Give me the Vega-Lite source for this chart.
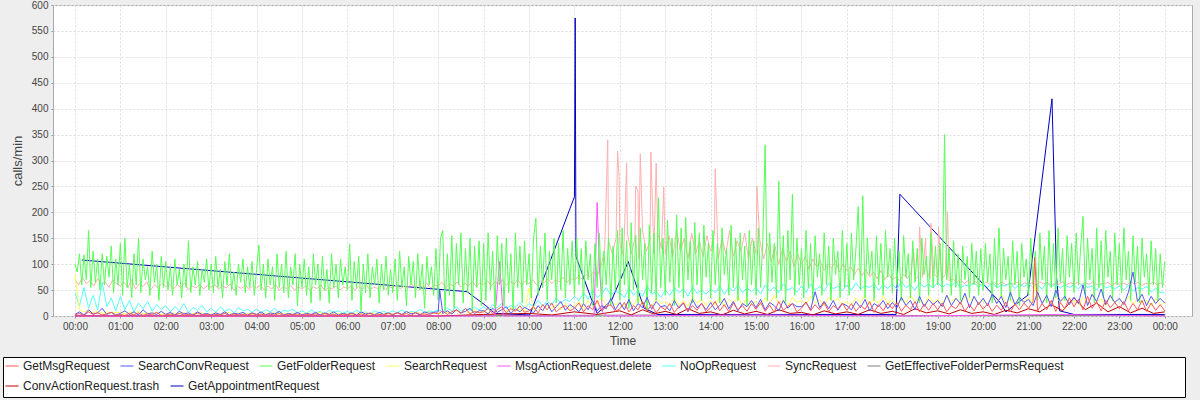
{
"$schema": "https://vega.github.io/schema/vega-lite/v6.json",
"width": 1139, "height": 311,
"autosize": {"type": "none"},
"padding": {"left": 53, "top": 5, "right": 8, "bottom": 84},
"background": "#eeeeee",
"config": {
 "view": {"fill": "#ffffff", "stroke": "#aaaaaa", "strokeWidth": 1},
 "axis": {"labelFont": "Liberation Sans", "labelFontSize": 10, "labelColor": "#444444", "titleFont": "Liberation Sans", "titleFontSize": 12, "titleFontWeight": "normal", "titleColor": "#444444", "domain": false, "ticks": true, "tickColor": "#999999", "tickSize": 2, "gridColor": "#dddddd", "gridDash": [2, 2], "labelPadding": 3},
 "legend": {"labelLimit": 400, "labelFont": "Liberation Sans", "labelFontSize": 12, "labelColor": "#222222", "symbolType": "stroke", "symbolSize": 169, "symbolStrokeWidth": 1, "labelOffset": 4, "columnPadding": 8}
},
"datasets": {
"g": [{"m":0,"v":100},{"m":3,"v":85},{"m":6,"v":120},{"m":9,"v":60},{"m":12,"v":118},{"m":15,"v":70},{"m":18,"v":165},{"m":21,"v":55},{"m":24,"v":125},{"m":27,"v":65},{"m":30,"v":110},{"m":33,"v":50},{"m":36,"v":120},{"m":39,"v":60},{"m":42,"v":115},{"m":45,"v":75},{"m":48,"v":135},{"m":51,"v":45},{"m":54,"v":110},{"m":57,"v":60},
{"m":60,"v":140},{"m":63,"v":40},{"m":66,"v":150},{"m":69,"v":55},{"m":72,"v":100},{"m":75,"v":35},{"m":78,"v":120},{"m":81,"v":60},{"m":84,"v":150},{"m":87,"v":45},{"m":90,"v":110},{"m":93,"v":70},{"m":96,"v":95},{"m":99,"v":40},{"m":102,"v":125},{"m":105,"v":65},{"m":108,"v":100},{"m":111,"v":30},{"m":114,"v":115},{"m":117,"v":55},
{"m":120,"v":105},{"m":123,"v":50},{"m":126,"v":95},{"m":129,"v":40},{"m":132,"v":110},{"m":135,"v":60},{"m":138,"v":90},{"m":141,"v":35},{"m":144,"v":100},{"m":147,"v":55},{"m":150,"v":145},{"m":153,"v":45},{"m":156,"v":95},{"m":159,"v":60},{"m":162,"v":105},{"m":165,"v":40},{"m":168,"v":90},{"m":171,"v":65},{"m":174,"v":110},{"m":177,"v":50},
{"m":180,"v":100},{"m":183,"v":45},{"m":186,"v":115},{"m":189,"v":55},{"m":192,"v":90},{"m":195,"v":35},{"m":198,"v":105},{"m":201,"v":60},{"m":204,"v":120},{"m":207,"v":50},{"m":210,"v":85},{"m":213,"v":40},{"m":216,"v":100},{"m":219,"v":65},{"m":222,"v":110},{"m":225,"v":45},{"m":228,"v":95},{"m":231,"v":55},{"m":234,"v":105},{"m":237,"v":40},
{"m":240,"v":90},{"m":243,"v":137},{"m":246,"v":50},{"m":249,"v":100},{"m":252,"v":35},{"m":255,"v":110},{"m":258,"v":60},{"m":261,"v":95},{"m":264,"v":30},{"m":267,"v":120},{"m":270,"v":55},{"m":273,"v":100},{"m":276,"v":45},{"m":279,"v":125},{"m":282,"v":35},{"m":285,"v":95},{"m":288,"v":60},{"m":291,"v":120},{"m":294,"v":20},{"m":297,"v":100},
{"m":300,"v":55},{"m":303,"v":110},{"m":306,"v":40},{"m":309,"v":95},{"m":312,"v":25},{"m":315,"v":120},{"m":318,"v":60},{"m":321,"v":100},{"m":324,"v":30},{"m":327,"v":115},{"m":330,"v":50},{"m":333,"v":90},{"m":336,"v":25},{"m":339,"v":120},{"m":342,"v":55},{"m":345,"v":100},{"m":348,"v":35},{"m":351,"v":110},{"m":354,"v":60},{"m":357,"v":95},
{"m":360,"v":50},{"m":363,"v":139},{"m":366,"v":30},{"m":369,"v":105},{"m":372,"v":55},{"m":375,"v":115},{"m":378,"v":10},{"m":381,"v":100},{"m":384,"v":45},{"m":387,"v":120},{"m":390,"v":35},{"m":393,"v":95},{"m":396,"v":60},{"m":399,"v":110},{"m":402,"v":25},{"m":405,"v":100},{"m":408,"v":50},{"m":411,"v":115},{"m":414,"v":40},{"m":417,"v":90},
{"m":420,"v":45},{"m":423,"v":110},{"m":426,"v":30},{"m":429,"v":125},{"m":432,"v":55},{"m":435,"v":95},{"m":438,"v":20},{"m":441,"v":115},{"m":444,"v":60},{"m":447,"v":105},{"m":450,"v":35},{"m":453,"v":120},{"m":456,"v":50},{"m":459,"v":100},{"m":462,"v":15},{"m":465,"v":115},{"m":468,"v":60},{"m":471,"v":95},{"m":474,"v":40},{"m":477,"v":130},
{"m":480,"v":30},{"m":483,"v":150},{"m":486,"v":165},{"m":489,"v":10},{"m":492,"v":120},{"m":495,"v":40},{"m":498,"v":155},{"m":501,"v":15},{"m":504,"v":140},{"m":507,"v":60},{"m":510,"v":160},{"m":513,"v":25},{"m":516,"v":130},{"m":519,"v":45},{"m":522,"v":150},{"m":525,"v":10},{"m":528,"v":135},{"m":531,"v":55},{"m":534,"v":145},{"m":537,"v":20},
{"m":540,"v":140},{"m":543,"v":30},{"m":546,"v":160},{"m":549,"v":50},{"m":552,"v":125},{"m":555,"v":15},{"m":558,"v":155},{"m":561,"v":60},{"m":564,"v":140},{"m":567,"v":20},{"m":570,"v":150},{"m":573,"v":45},{"m":576,"v":120},{"m":579,"v":10},{"m":582,"v":160},{"m":585,"v":55},{"m":588,"v":135},{"m":591,"v":25},{"m":594,"v":145},{"m":597,"v":60},
{"m":600,"v":120},{"m":603,"v":35},{"m":606,"v":150},{"m":609,"v":189},{"m":612,"v":40},{"m":615,"v":135},{"m":618,"v":55},{"m":621,"v":160},{"m":624,"v":30},{"m":627,"v":125},{"m":630,"v":70},{"m":633,"v":150},{"m":636,"v":25},{"m":639,"v":140},{"m":642,"v":50},{"m":645,"v":165},{"m":648,"v":35},{"m":651,"v":130},{"m":654,"v":60},{"m":657,"v":145},
{"m":660,"v":40},{"m":663,"v":150},{"m":666,"v":60},{"m":669,"v":130},{"m":672,"v":25},{"m":675,"v":145},{"m":678,"v":70},{"m":681,"v":120},{"m":684,"v":20},{"m":687,"v":140},{"m":690,"v":55},{"m":693,"v":160},{"m":696,"v":30},{"m":699,"v":125},{"m":702,"v":60},{"m":705,"v":150},{"m":708,"v":20},{"m":711,"v":135},{"m":714,"v":50},{"m":717,"v":165},
{"m":720,"v":30},{"m":723,"v":170},{"m":726,"v":60},{"m":729,"v":145},{"m":732,"v":15},{"m":735,"v":180},{"m":738,"v":50},{"m":741,"v":155},{"m":744,"v":25},{"m":747,"v":170},{"m":750,"v":70},{"m":753,"v":140},{"m":756,"v":10},{"m":759,"v":175},{"m":762,"v":45},{"m":765,"v":160},{"m":768,"v":30},{"m":771,"v":228},{"m":774,"v":55},{"m":777,"v":150},
{"m":780,"v":40},{"m":783,"v":185},{"m":786,"v":65},{"m":789,"v":150},{"m":792,"v":20},{"m":795,"v":195},{"m":798,"v":55},{"m":801,"v":170},{"m":804,"v":35},{"m":807,"v":190},{"m":810,"v":70},{"m":813,"v":145},{"m":816,"v":25},{"m":819,"v":180},{"m":822,"v":60},{"m":825,"v":160},{"m":828,"v":30},{"m":831,"v":175},{"m":834,"v":75},{"m":837,"v":140},
{"m":840,"v":35},{"m":843,"v":165},{"m":846,"v":60},{"m":849,"v":140},{"m":852,"v":25},{"m":855,"v":170},{"m":858,"v":80},{"m":861,"v":130},{"m":864,"v":40},{"m":867,"v":175},{"m":870,"v":55},{"m":873,"v":150},{"m":876,"v":30},{"m":879,"v":160},{"m":882,"v":70},{"m":885,"v":135},{"m":888,"v":20},{"m":891,"v":165},{"m":894,"v":60},{"m":897,"v":145},
{"m":900,"v":40},{"m":903,"v":170},{"m":906,"v":55},{"m":909,"v":150},{"m":912,"v":330},{"m":915,"v":30},{"m":918,"v":160},{"m":921,"v":65},{"m":924,"v":140},{"m":927,"v":35},{"m":930,"v":260},{"m":933,"v":50},{"m":936,"v":155},{"m":939,"v":25},{"m":942,"v":165},{"m":945,"v":70},{"m":948,"v":235},{"m":951,"v":40},{"m":954,"v":150},{"m":957,"v":60},
{"m":960,"v":130},{"m":963,"v":35},{"m":966,"v":165},{"m":969,"v":55},{"m":972,"v":140},{"m":975,"v":30},{"m":978,"v":155},{"m":981,"v":75},{"m":984,"v":120},{"m":987,"v":40},{"m":990,"v":160},{"m":993,"v":60},{"m":996,"v":135},{"m":999,"v":30},{"m":1002,"v":150},{"m":1005,"v":80},{"m":1008,"v":125},{"m":1011,"v":35},{"m":1014,"v":165},{"m":1017,"v":55},
{"m":1020,"v":140},{"m":1023,"v":40},{"m":1026,"v":160},{"m":1029,"v":70},{"m":1032,"v":130},{"m":1035,"v":211},{"m":1038,"v":50},{"m":1041,"v":232},{"m":1044,"v":35},{"m":1047,"v":150},{"m":1050,"v":80},{"m":1053,"v":125},{"m":1056,"v":30},{"m":1059,"v":155},{"m":1062,"v":60},{"m":1065,"v":140},{"m":1068,"v":40},{"m":1071,"v":165},{"m":1074,"v":75},{"m":1077,"v":130},
{"m":1080,"v":45},{"m":1083,"v":150},{"m":1086,"v":60},{"m":1089,"v":125},{"m":1092,"v":30},{"m":1095,"v":155},{"m":1098,"v":75},{"m":1101,"v":120},{"m":1104,"v":35},{"m":1107,"v":145},{"m":1110,"v":65},{"m":1113,"v":130},{"m":1116,"v":25},{"m":1119,"v":150},{"m":1122,"v":80},{"m":1125,"v":115},{"m":1128,"v":40},{"m":1131,"v":160},{"m":1134,"v":55},{"m":1137,"v":135},
{"m":1140,"v":60},{"m":1143,"v":140},{"m":1146,"v":45},{"m":1149,"v":350},{"m":1152,"v":70},{"m":1155,"v":130},{"m":1158,"v":40},{"m":1161,"v":145},{"m":1164,"v":55},{"m":1167,"v":120},{"m":1170,"v":30},{"m":1173,"v":135},{"m":1176,"v":70},{"m":1179,"v":115},{"m":1182,"v":35},{"m":1185,"v":140},{"m":1188,"v":60},{"m":1191,"v":125},{"m":1194,"v":40},{"m":1197,"v":130},
{"m":1200,"v":50},{"m":1203,"v":140},{"m":1206,"v":65},{"m":1209,"v":120},{"m":1212,"v":25},{"m":1215,"v":150},{"m":1218,"v":55},{"m":1221,"v":170},{"m":1224,"v":40},{"m":1227,"v":130},{"m":1230,"v":70},{"m":1233,"v":115},{"m":1236,"v":30},{"m":1239,"v":145},{"m":1242,"v":60},{"m":1245,"v":125},{"m":1248,"v":20},{"m":1251,"v":140},{"m":1254,"v":75},{"m":1257,"v":110},
{"m":1260,"v":40},{"m":1263,"v":150},{"m":1266,"v":60},{"m":1269,"v":125},{"m":1272,"v":30},{"m":1275,"v":160},{"m":1278,"v":70},{"m":1281,"v":135},{"m":1284,"v":25},{"m":1287,"v":165},{"m":1290,"v":55},{"m":1293,"v":140},{"m":1296,"v":35},{"m":1299,"v":170},{"m":1302,"v":65},{"m":1305,"v":130},{"m":1308,"v":30},{"m":1311,"v":155},{"m":1314,"v":75},{"m":1317,"v":140},
{"m":1320,"v":45},{"m":1323,"v":160},{"m":1326,"v":60},{"m":1329,"v":135},{"m":1332,"v":192},{"m":1335,"v":40},{"m":1338,"v":150},{"m":1341,"v":70},{"m":1344,"v":130},{"m":1347,"v":25},{"m":1350,"v":170},{"m":1353,"v":55},{"m":1356,"v":145},{"m":1359,"v":35},{"m":1362,"v":165},{"m":1365,"v":75},{"m":1368,"v":125},{"m":1371,"v":30},{"m":1374,"v":160},{"m":1377,"v":60},
{"m":1380,"v":140},{"m":1383,"v":45},{"m":1386,"v":170},{"m":1389,"v":70},{"m":1392,"v":125},{"m":1395,"v":30},{"m":1398,"v":155},{"m":1401,"v":65},{"m":1404,"v":135},{"m":1407,"v":25},{"m":1410,"v":150},{"m":1413,"v":75},{"m":1416,"v":120},{"m":1419,"v":40},{"m":1422,"v":145},{"m":1425,"v":60},{"m":1428,"v":130},{"m":1431,"v":30},{"m":1434,"v":120},{"m":1437,"v":55},{"m":1440,"v":105}],
"p": [{"m":0,"v":70},{"m":5,"v":60},{"m":10,"v":75},{"m":15,"v":62},{"m":20,"v":68},{"m":25,"v":58},{"m":30,"v":72},{"m":35,"v":60},{"m":40,"v":66},{"m":45,"v":55},{"m":50,"v":70},{"m":55,"v":62},
{"m":60,"v":58},{"m":65,"v":65},{"m":70,"v":55},{"m":75,"v":70},{"m":80,"v":52},{"m":85,"v":62},{"m":90,"v":57},{"m":95,"v":66},{"m":100,"v":50},{"m":105,"v":60},{"m":110,"v":55},{"m":115,"v":63},
{"m":120,"v":56},{"m":125,"v":62},{"m":130,"v":52},{"m":135,"v":60},{"m":140,"v":55},{"m":145,"v":64},{"m":150,"v":50},{"m":155,"v":58},{"m":160,"v":54},{"m":165,"v":61},{"m":170,"v":52},{"m":175,"v":59},
{"m":180,"v":55},{"m":185,"v":60},{"m":190,"v":52},{"m":195,"v":58},{"m":200,"v":54},{"m":205,"v":62},{"m":210,"v":50},{"m":215,"v":57},{"m":220,"v":53},{"m":225,"v":60},{"m":230,"v":51},{"m":235,"v":58},
{"m":240,"v":54},{"m":245,"v":60},{"m":250,"v":50},{"m":255,"v":58},{"m":260,"v":52},{"m":265,"v":61},{"m":270,"v":49},{"m":275,"v":57},{"m":280,"v":53},{"m":285,"v":59},{"m":290,"v":50},{"m":295,"v":56},
{"m":300,"v":52},{"m":305,"v":58},{"m":310,"v":50},{"m":315,"v":56},{"m":320,"v":53},{"m":325,"v":60},{"m":330,"v":49},{"m":335,"v":55},{"m":340,"v":52},{"m":345,"v":58},{"m":350,"v":50},{"m":355,"v":56},
{"m":360,"v":53},{"m":365,"v":58},{"m":370,"v":50},{"m":375,"v":57},{"m":380,"v":52},{"m":385,"v":60},{"m":390,"v":50},{"m":395,"v":56},{"m":400,"v":53},{"m":405,"v":59},{"m":410,"v":51},{"m":415,"v":57},
{"m":420,"v":54},{"m":425,"v":60},{"m":430,"v":52},{"m":435,"v":58},{"m":440,"v":55},{"m":445,"v":62},{"m":450,"v":53},{"m":455,"v":60},{"m":460,"v":55},{"m":465,"v":63},{"m":470,"v":54},{"m":475,"v":60},
{"m":480,"v":58},{"m":485,"v":65},{"m":490,"v":55},{"m":495,"v":62},{"m":500,"v":58},{"m":505,"v":66},{"m":510,"v":56},{"m":515,"v":63},{"m":520,"v":58},{"m":525,"v":67},{"m":530,"v":57},{"m":535,"v":64},
{"m":540,"v":60},{"m":545,"v":68},{"m":550,"v":58},{"m":555,"v":65},{"m":560,"v":62},{"m":565,"v":70},{"m":570,"v":59},{"m":575,"v":66},{"m":580,"v":61},{"m":585,"v":70},{"m":590,"v":60},{"m":595,"v":67},
{"m":600,"v":62},{"m":605,"v":70},{"m":610,"v":60},{"m":615,"v":68},{"m":620,"v":64},{"m":625,"v":72},{"m":630,"v":62},{"m":635,"v":70},{"m":640,"v":66},{"m":645,"v":75},{"m":650,"v":65},{"m":655,"v":72},
{"m":660,"v":70},{"m":665,"v":75},{"m":670,"v":72},{"m":675,"v":80},{"m":680,"v":76},{"m":685,"v":85},{"m":690,"v":78},{"m":695,"v":95},{"m":700,"v":130},{"m":705,"v":145},{"m":710,"v":120},{"m":715,"v":150},
{"m":720,"v":140},{"m":725,"v":115},{"m":730,"v":160},{"m":735,"v":120},{"m":740,"v":150},{"m":745,"v":110},{"m":750,"v":165},{"m":755,"v":125},{"m":760,"v":145},{"m":765,"v":120},{"m":770,"v":160},{"m":775,"v":130},
{"m":780,"v":120},{"m":785,"v":155},{"m":790,"v":115},{"m":795,"v":165},{"m":800,"v":125},{"m":805,"v":150},{"m":810,"v":110},{"m":815,"v":160},{"m":820,"v":120},{"m":825,"v":145},{"m":830,"v":115},{"m":835,"v":155},
{"m":840,"v":125},{"m":845,"v":160},{"m":850,"v":110},{"m":855,"v":150},{"m":860,"v":120},{"m":865,"v":165},{"m":870,"v":115},{"m":875,"v":145},{"m":880,"v":125},{"m":885,"v":160},{"m":890,"v":110},{"m":895,"v":150},
{"m":900,"v":120},{"m":905,"v":145},{"m":910,"v":110},{"m":915,"v":140},{"m":920,"v":105},{"m":925,"v":135},{"m":930,"v":100},{"m":935,"v":130},{"m":940,"v":105},{"m":945,"v":125},{"m":950,"v":95},{"m":955,"v":120},
{"m":960,"v":100},{"m":965,"v":115},{"m":970,"v":90},{"m":975,"v":110},{"m":980,"v":95},{"m":985,"v":105},{"m":990,"v":88},{"m":995,"v":100},{"m":1000,"v":92},{"m":1005,"v":108},{"m":1010,"v":85},{"m":1015,"v":100},
{"m":1020,"v":88},{"m":1025,"v":95},{"m":1030,"v":80},{"m":1035,"v":92},{"m":1040,"v":78},{"m":1045,"v":90},{"m":1050,"v":75},{"m":1055,"v":85},{"m":1060,"v":72},{"m":1065,"v":88},{"m":1070,"v":70},{"m":1075,"v":82},
{"m":1080,"v":70},{"m":1085,"v":75},{"m":1090,"v":68},{"m":1095,"v":80},{"m":1100,"v":72},{"m":1105,"v":85},{"m":1110,"v":70},{"m":1115,"v":78},{"m":1120,"v":75},{"m":1125,"v":90},{"m":1130,"v":72},{"m":1135,"v":80},
{"m":1140,"v":75},{"m":1145,"v":70},{"m":1150,"v":80},{"m":1155,"v":68},{"m":1160,"v":72},{"m":1165,"v":65},{"m":1170,"v":70},{"m":1175,"v":63},{"m":1180,"v":68},{"m":1185,"v":62},{"m":1190,"v":66},{"m":1195,"v":60},
{"m":1200,"v":62},{"m":1205,"v":65},{"m":1210,"v":60},{"m":1215,"v":64},{"m":1220,"v":61},{"m":1225,"v":66},{"m":1230,"v":60},{"m":1235,"v":63},{"m":1240,"v":62},{"m":1245,"v":65},{"m":1250,"v":59},{"m":1255,"v":64},
{"m":1260,"v":61},{"m":1265,"v":64},{"m":1270,"v":60},{"m":1275,"v":66},{"m":1280,"v":62},{"m":1285,"v":65},{"m":1290,"v":59},{"m":1295,"v":63},{"m":1300,"v":61},{"m":1305,"v":66},{"m":1310,"v":60},{"m":1315,"v":64},
{"m":1320,"v":62},{"m":1325,"v":65},{"m":1330,"v":60},{"m":1335,"v":64},{"m":1340,"v":61},{"m":1345,"v":66},{"m":1350,"v":60},{"m":1355,"v":63},{"m":1360,"v":62},{"m":1365,"v":65},{"m":1370,"v":59},{"m":1375,"v":64},
{"m":1380,"v":61},{"m":1385,"v":64},{"m":1390,"v":60},{"m":1395,"v":66},{"m":1400,"v":62},{"m":1405,"v":65},{"m":1410,"v":59},{"m":1415,"v":63},{"m":1420,"v":61},{"m":1425,"v":66},{"m":1430,"v":60},{"m":1435,"v":64},{"m":1440,"v":60},
{"m":704,"v":340},{"m":717,"v":318},{"m":719,"v":269},{"m":729,"v":295},{"m":741,"v":251},{"m":744,"v":240},{"m":747,"v":313},{"m":761,"v":316},{"m":768,"v":295},{"m":778,"v":249},{"m":846,"v":284},{"m":901,"v":250},{"m":1108,"v":130},{"m":1116,"v":172},{"m":1124,"v":150},{"m":1131,"v":179},{"m":1141,"v":172},{"m":1153,"v":201}],
"w": [{"m":0,"c":45,"y":80,"r":2,"b":3},{"m":6,"c":20,"y":12,"r":5,"b":8},{"m":12,"c":55,"y":8,"r":1,"b":2},{"m":18,"c":15,"y":10,"r":8,"b":12},{"m":24,"c":40,"y":6,"r":3,"b":4},{"m":30,"c":12,"y":9,"r":6,"b":6},{"m":36,"c":65,"y":5,"r":2,"b":15},{"m":42,"c":18,"y":8,"r":4,"b":3},{"m":48,"c":35,"y":6,"r":7,"b":7},{"m":54,"c":10,"y":7,"r":1,"b":2},
{"m":60,"c":38,"y":7,"r":3,"b":5},{"m":66,"c":12,"y":4,"r":1,"b":10},{"m":72,"c":30,"y":8,"r":5,"b":3},{"m":78,"c":8,"y":5,"r":2,"b":8},{"m":84,"c":25,"y":9,"r":6,"b":2},{"m":90,"c":14,"y":4,"r":1,"b":12},{"m":96,"c":28,"y":6,"r":4,"b":4},{"m":102,"c":9,"y":5,"r":2,"b":6},{"m":108,"c":22,"y":7,"r":7,"b":3},{"m":114,"c":12,"y":3,"r":1,"b":9},
{"m":120,"c":20,"y":5,"r":2,"b":3},{"m":126,"c":8,"y":3,"r":4,"b":7},{"m":132,"c":18,"y":6,"r":1,"b":2},{"m":138,"c":10,"y":4,"r":5,"b":9},{"m":144,"c":24,"y":7,"r":2,"b":4},{"m":150,"c":7,"y":3,"r":3,"b":6},{"m":156,"c":16,"y":5,"r":1,"b":2},{"m":162,"c":12,"y":4,"r":6,"b":8},{"m":168,"c":20,"y":6,"r":2,"b":3},{"m":174,"c":8,"y":3,"r":3,"b":5},
{"m":180,"c":15,"y":4,"r":1,"b":2},{"m":186,"c":7,"y":6,"r":3,"b":6},{"m":192,"c":18,"y":3,"r":2,"b":3},{"m":198,"c":9,"y":5,"r":5,"b":8},{"m":204,"c":14,"y":7,"r":1,"b":2},{"m":210,"c":6,"y":3,"r":4,"b":5},{"m":216,"c":16,"y":6,"r":2,"b":4},{"m":222,"c":10,"y":4,"r":3,"b":7},{"m":228,"c":13,"y":5,"r":1,"b":2},{"m":234,"c":7,"y":3,"r":5,"b":6},
{"m":240,"c":14,"y":5,"r":2,"b":3},{"m":246,"c":6,"y":3,"r":4,"b":8},{"m":252,"c":12,"y":6,"r":1,"b":2},{"m":258,"c":8,"y":4,"r":3,"b":6},{"m":264,"c":15,"y":7,"r":2,"b":4},{"m":270,"c":5,"y":3,"r":5,"b":9},{"m":276,"c":11,"y":5,"r":1,"b":2},{"m":282,"c":9,"y":4,"r":3,"b":5},{"m":288,"c":13,"y":6,"r":2,"b":3},{"m":294,"c":6,"y":3,"r":4,"b":7},
{"m":300,"c":10,"y":4,"r":1,"b":2},{"m":306,"c":5,"y":6,"r":3,"b":5},{"m":312,"c":12,"y":3,"r":2,"b":3},{"m":318,"c":6,"y":5,"r":4,"b":7},{"m":324,"c":9,"y":7,"r":1,"b":2},{"m":330,"c":4,"y":3,"r":5,"b":6},{"m":336,"c":11,"y":6,"r":2,"b":3},{"m":342,"c":7,"y":4,"r":3,"b":8},{"m":348,"c":10,"y":5,"r":1,"b":2},{"m":354,"c":5,"y":3,"r":4,"b":5},
{"m":360,"c":9,"y":5,"r":2,"b":3},{"m":366,"c":5,"y":3,"r":5,"b":6},{"m":372,"c":11,"y":6,"r":1,"b":2},{"m":378,"c":6,"y":4,"r":4,"b":8},{"m":384,"c":8,"y":7,"r":2,"b":4},{"m":390,"c":4,"y":3,"r":6,"b":5},{"m":396,"c":10,"y":5,"r":1,"b":2},{"m":402,"c":6,"y":4,"r":3,"b":7},{"m":408,"c":9,"y":6,"r":2,"b":3},{"m":414,"c":5,"y":3,"r":5,"b":6},
{"m":420,"c":10,"y":4,"r":3,"b":2},{"m":426,"c":6,"y":6,"r":6,"b":7},{"m":432,"c":12,"y":3,"r":2,"b":3},{"m":438,"c":5,"y":5,"r":5,"b":9},{"m":444,"c":9,"y":7,"r":1,"b":4},{"m":450,"c":7,"y":4,"r":7,"b":6},{"m":456,"c":13,"y":6,"r":3,"b":2},{"m":462,"c":6,"y":4,"r":4,"b":8},{"m":468,"c":10,"y":8,"r":2,"b":5},{"m":474,"c":8,"y":5,"r":6,"b":7},
{"m":480,"c":12,"y":6,"r":4,"b":8},{"m":486,"c":8,"y":4,"r":10,"b":5},{"m":492,"c":15,"y":8,"r":3,"b":10},{"m":498,"c":10,"y":5,"r":8,"b":4},{"m":504,"c":18,"y":10,"r":12,"b":12},{"m":510,"c":9,"y":6,"r":5,"b":6},{"m":516,"c":14,"y":9,"r":15,"b":9},{"m":522,"c":11,"y":5,"r":4,"b":15},{"m":528,"c":17,"y":12,"r":9,"b":5},{"m":534,"c":12,"y":7,"r":6,"b":10},
{"m":540,"c":18,"y":10,"r":8,"b":10},{"m":546,"c":12,"y":6,"r":15,"b":4},{"m":552,"c":22,"y":14,"r":5,"b":15},{"m":558,"c":15,"y":8,"r":12,"b":7},{"m":564,"c":25,"y":12,"r":18,"b":12},{"m":570,"c":14,"y":9,"r":6,"b":18},{"m":576,"c":20,"y":16,"r":14,"b":5},{"m":582,"c":17,"y":10,"r":9,"b":14},{"m":588,"c":26,"y":13,"r":20,"b":8},{"m":594,"c":15,"y":8,"r":7,"b":17},
{"m":600,"c":24,"y":54,"r":10,"b":12},{"m":606,"c":18,"y":12,"r":18,"b":6},{"m":612,"c":30,"y":18,"r":6,"b":20},{"m":618,"c":20,"y":10,"r":22,"b":10},{"m":624,"c":28,"y":20,"r":12,"b":25},{"m":630,"c":22,"y":14,"r":25,"b":8},{"m":636,"c":35,"y":22,"r":8,"b":18},{"m":642,"c":25,"y":12,"r":16,"b":28},{"m":648,"c":32,"y":25,"r":20,"b":11},{"m":654,"c":28,"y":15,"r":10,"b":22},
{"m":660,"c":38,"y":20,"r":15,"b":16},{"m":666,"c":30,"y":28,"r":25,"b":8},{"m":672,"c":45,"y":15,"r":8,"b":24},{"m":678,"c":32,"y":30,"r":20,"b":12},{"m":684,"c":50,"y":18,"r":12,"b":30},{"m":690,"c":36,"y":25,"r":30,"b":10},{"m":696,"c":42,"y":35,"r":10,"b":20},{"m":702,"c":55,"y":20,"r":18,"b":14},{"m":708,"c":40,"y":28,"r":22,"b":34},{"m":714,"c":48,"y":22,"r":9,"b":12},
{"m":720,"c":45,"y":25,"r":14,"b":26},{"m":726,"c":35,"y":18,"r":26,"b":12},{"m":732,"c":55,"y":32,"r":8,"b":32},{"m":738,"c":40,"y":20,"r":20,"b":10},{"m":744,"c":50,"y":38,"r":12,"b":24},{"m":750,"c":38,"y":22,"r":28,"b":16},{"m":756,"c":58,"y":30,"r":10,"b":36},{"m":762,"c":42,"y":16,"r":22,"b":13},{"m":768,"c":48,"y":34,"r":6,"b":28},{"m":774,"c":36,"y":24,"r":18,"b":18},
{"m":780,"c":50,"y":28,"r":12,"b":20},{"m":786,"c":40,"y":20,"r":24,"b":10},{"m":792,"c":55,"y":35,"r":7,"b":30},{"m":798,"c":45,"y":22,"r":18,"b":15},{"m":804,"c":52,"y":30,"r":26,"b":25},{"m":810,"c":38,"y":18,"r":9,"b":8},{"m":816,"c":56,"y":36,"r":20,"b":32},{"m":822,"c":44,"y":25,"r":11,"b":16},{"m":828,"c":50,"y":32,"r":25,"b":24},{"m":834,"c":42,"y":20,"r":8,"b":12},
{"m":840,"c":52,"y":30,"r":16,"b":26},{"m":846,"c":45,"y":22,"r":28,"b":12},{"m":852,"c":58,"y":36,"r":10,"b":20},{"m":858,"c":42,"y":18,"r":22,"b":34},{"m":864,"c":55,"y":32,"r":8,"b":14},{"m":870,"c":48,"y":25,"r":25,"b":28},{"m":876,"c":60,"y":38,"r":12,"b":10},{"m":882,"c":45,"y":20,"r":20,"b":24},{"m":888,"c":54,"y":34,"r":9,"b":18},{"m":894,"c":47,"y":24,"r":24,"b":30},
{"m":900,"c":55,"y":28,"r":13,"b":16},{"m":906,"c":42,"y":20,"r":26,"b":32},{"m":912,"c":60,"y":35,"r":9,"b":12},{"m":918,"c":48,"y":22,"r":21,"b":26},{"m":924,"c":56,"y":40,"r":7,"b":20},{"m":930,"c":45,"y":25,"r":28,"b":10},{"m":936,"c":62,"y":30,"r":11,"b":30},{"m":942,"c":50,"y":18,"r":19,"b":15},{"m":948,"c":55,"y":36,"r":24,"b":24},{"m":954,"c":46,"y":26,"r":8,"b":18},
{"m":960,"c":58,"y":30,"r":15,"b":18},{"m":966,"c":45,"y":22,"r":27,"b":26},{"m":972,"c":62,"y":38,"r":10,"b":12},{"m":978,"c":50,"y":25,"r":22,"b":47},{"m":984,"c":57,"y":32,"r":12,"b":16},{"m":990,"c":48,"y":20,"r":26,"b":28},{"m":996,"c":63,"y":36,"r":8,"b":14},{"m":1002,"c":52,"y":28,"r":20,"b":30},{"m":1008,"c":58,"y":34,"r":14,"b":11},{"m":1014,"c":49,"y":22,"r":25,"b":24},
{"m":1020,"c":60,"y":28,"r":11,"b":20},{"m":1026,"c":50,"y":20,"r":24,"b":12},{"m":1032,"c":64,"y":35,"r":9,"b":28},{"m":1038,"c":52,"y":26,"r":20,"b":16},{"m":1044,"c":58,"y":40,"r":13,"b":32},{"m":1050,"c":55,"y":22,"r":28,"b":10},{"m":1056,"c":62,"y":32,"r":7,"b":24},{"m":1062,"c":50,"y":24,"r":22,"b":18},{"m":1068,"c":60,"y":38,"r":10,"b":30},{"m":1074,"c":53,"y":25,"r":25,"b":14},
{"m":1080,"c":62,"y":30,"r":14,"b":26},{"m":1086,"c":52,"y":22,"r":26,"b":16},{"m":1092,"c":66,"y":36,"r":9,"b":36},{"m":1098,"c":55,"y":25,"r":21,"b":20},{"m":1104,"c":60,"y":40,"r":12,"b":30},{"m":1110,"c":50,"y":28,"r":28,"b":12},{"m":1116,"c":64,"y":34,"r":8,"b":38},{"m":1122,"c":56,"y":20,"r":23,"b":18},{"m":1128,"c":61,"y":38,"r":11,"b":32},{"m":1134,"c":54,"y":26,"r":24,"b":22},
{"m":1140,"c":65,"y":32,"r":12,"b":30},{"m":1146,"c":55,"y":24,"r":25,"b":18},{"m":1152,"c":62,"y":40,"r":8,"b":40},{"m":1158,"c":58,"y":28,"r":20,"b":20},{"m":1164,"c":66,"y":35,"r":14,"b":34},{"m":1170,"c":54,"y":22,"r":27,"b":24},{"m":1176,"c":60,"y":38,"r":9,"b":44},{"m":1182,"c":57,"y":30,"r":22,"b":16},{"m":1188,"c":64,"y":34,"r":10,"b":38},{"m":1194,"c":56,"y":25,"r":26,"b":22},
{"m":1200,"c":62,"y":30,"r":13,"b":34},{"m":1206,"c":55,"y":22,"r":24,"b":20},{"m":1212,"c":66,"y":38,"r":9,"b":42},{"m":1218,"c":54,"y":26,"r":21,"b":24},{"m":1224,"c":60,"y":42,"r":11,"b":38},{"m":1230,"c":58,"y":25,"r":27,"b":16},{"m":1236,"c":64,"y":34,"r":8,"b":46},{"m":1242,"c":53,"y":20,"r":23,"b":22},{"m":1248,"c":61,"y":36,"r":12,"b":36},{"m":1254,"c":57,"y":28,"r":25,"b":26},
{"m":1260,"c":63,"y":35,"r":15,"b":32},{"m":1266,"c":55,"y":25,"r":28,"b":20},{"m":1272,"c":60,"y":40,"r":10,"b":46},{"m":1278,"c":52,"y":28,"r":24,"b":24},{"m":1284,"c":65,"y":32,"r":12,"b":40},{"m":1290,"c":56,"y":22,"r":30,"b":18},{"m":1296,"c":62,"y":38,"r":9,"b":50},{"m":1302,"c":54,"y":26,"r":26,"b":28},{"m":1308,"c":60,"y":34,"r":14,"b":38},{"m":1314,"c":55,"y":24,"r":35,"b":22},
{"m":1320,"c":60,"y":30,"r":18,"b":36},{"m":1326,"c":52,"y":22,"r":32,"b":24},{"m":1332,"c":63,"y":36,"r":12,"b":60},{"m":1338,"c":55,"y":25,"r":38,"b":20},{"m":1344,"c":58,"y":40,"r":15,"b":42},{"m":1350,"c":50,"y":28,"r":28,"b":28},{"m":1356,"c":62,"y":33,"r":10,"b":52},{"m":1362,"c":54,"y":20,"r":30,"b":22},{"m":1368,"c":57,"y":37,"r":16,"b":40},{"m":1374,"c":52,"y":26,"r":26,"b":26},
{"m":1380,"c":58,"y":32,"r":14,"b":34},{"m":1386,"c":50,"y":24,"r":28,"b":22},{"m":1392,"c":60,"y":38,"r":10,"b":46},{"m":1398,"c":48,"y":22,"r":24,"b":85},{"m":1404,"c":55,"y":35,"r":12,"b":28},{"m":1410,"c":52,"y":26,"r":30,"b":42},{"m":1416,"c":57,"y":30,"r":9,"b":20},{"m":1422,"c":46,"y":20,"r":25,"b":38},{"m":1428,"c":54,"y":34,"r":11,"b":24},{"m":1434,"c":45,"y":22,"r":22,"b":34},
{"m":1440,"c":45,"y":25,"r":10,"b":25},
{"m":482,"b":50},{"m":1268,"r":114,"y":60}],
"dr": [{"m":0,"v":0},{"m":480,"v":0},{"m":540,"v":3},{"m":600,"v":5},{"m":630,"v":2},{"m":660,"v":8},{"m":690,"v":3},{"m":720,"v":10},{"m":735,"v":2},{"m":750,"v":12},{"m":765,"v":4},{"m":780,"v":9},{"m":795,"v":3},{"m":810,"v":14},{"m":825,"v":5},{"m":840,"v":8},{"m":855,"v":2},{"m":870,"v":11},{"m":885,"v":4},{"m":900,"v":9},{"m":915,"v":3},{"m":930,"v":12},{"m":945,"v":5},{"m":960,"v":7},{"m":975,"v":2},{"m":990,"v":10},{"m":1005,"v":4},{"m":1020,"v":8},{"m":1035,"v":3},{"m":1050,"v":12},{"m":1065,"v":5},{"m":1080,"v":9},{"m":1095,"v":3},{"m":1110,"v":14},{"m":1125,"v":6},{"m":1140,"v":10},{"m":1155,"v":4},{"m":1170,"v":12},{"m":1185,"v":5},{"m":1200,"v":8},{"m":1215,"v":3},{"m":1230,"v":11},{"m":1245,"v":6},{"m":1260,"v":14},{"m":1275,"v":8},{"m":1290,"v":22},{"m":1305,"v":10},{"m":1320,"v":35},{"m":1335,"v":12},{"m":1350,"v":25},{"m":1365,"v":8},{"m":1380,"v":18},{"m":1395,"v":6},{"m":1410,"v":15},{"m":1425,"v":5},{"m":1440,"v":8}],
"mg": [{"m":0,"v":0},{"m":555,"v":0},{"m":561,"v":105},{"m":566,"v":0},{"m":686,"v":0},{"m":690,"v":219},{"m":693,"v":95},{"m":697,"v":8},{"m":702,"v":0},{"m":900,"v":2},{"m":1100,"v":0},{"m":1300,"v":3},{"m":1440,"v":0}],
"gy": [{"m":0,"v":1},{"m":400,"v":0},{"m":800,"v":2},{"m":1100,"v":1},{"m":1440,"v":1}],
"db": [{"m":9,"v":108},{"m":518,"v":47},{"m":542,"v":21},{"m":555,"v":5},{"m":601,"v":2},{"m":660,"v":230},{"m":661,"v":575},{"m":662,"v":115},{"m":683,"v":30},{"m":690,"v":5},{"m":709,"v":30},{"m":731,"v":105},{"m":752,"v":15},{"m":770,"v":3},{"m":1085,"v":3},{"m":1090,"v":235},{"m":1222,"v":27},{"m":1230,"v":8},{"m":1259,"v":40},{"m":1291,"v":419},{"m":1297,"v":75},{"m":1301,"v":10},{"m":1320,"v":3},{"m":1440,"v":3}]
},
"encoding": {
 "x": {"field": "m", "type": "quantitative", "scale": {"domain": [-29, 1476], "nice": false, "zero": false},
  "axis": {"title": "Time", "titlePadding": 4, "grid": true, "values": [0,60,120,180,240,300,360,420,480,540,600,660,720,780,840,900,960,1020,1080,1140,1200,1260,1320,1380,1440], "labelExpr": "(datum.value < 600 || datum.value >= 1440 ? '0' : '') + (floor(datum.value / 60) % 24) + ':00'"}},
 "y": {"field": "v", "type": "quantitative", "scale": {"domain": [0, 600], "nice": false},
  "axis": {"title": "calls/min", "titlePadding": 7, "titleFontSize": 13, "grid": true, "values": [0,50,100,150,200,250,300,350,400,450,500,550,600]}}
},
"layer": [
 {"data": {"name": "gy"}, "mark": {"type": "line", "strokeWidth": 1},
  "encoding": {"color": {"datum": "GetEffectiveFolderPermsRequest", "type": "nominal",
   "scale": {"domain": ["GetMsgRequest","SearchConvRequest","GetFolderRequest","SearchRequest","MsgActionRequest.delete","NoOpRequest","SyncRequest","GetEffectiveFolderPermsRequest"], "range": ["#ff5555","#5555ff","#55ff55","#ffff55","#ff55ff","#55ffff","#ffafaf","#808080"]},
   "legend": {"orient": "none", "legendX": -50, "legendY": 352, "direction": "horizontal", "padding": 2, "fillColor": "#ffffff", "strokeColor": "#000000", "title": " ", "titleOrient": "right", "titlePadding": 119, "titleFontSize": 37, "titleBaseline": "top", "titleAnchor": "start"}}}},
 {"data": {"name": "db"}, "mark": {"type": "line", "strokeWidth": 1},
  "encoding": {"stroke": {"datum": "GetAppointmentRequest", "type": "nominal",
   "scale": {"domain": ["ConvActionRequest.trash","GetAppointmentRequest"], "range": ["#c00000","#0000c0"]},
   "legend": {"orient": "none", "legendX": -48, "legendY": 374, "direction": "horizontal", "padding": 0, "title": null}}}},
 {"data": {"name": "dr"}, "mark": {"type": "line", "strokeWidth": 1},
  "encoding": {"stroke": {"datum": "ConvActionRequest.trash", "type": "nominal", "scale": {"domain": ["ConvActionRequest.trash","GetAppointmentRequest"], "range": ["#c00000","#0000c0"]}}}},
 {"data": {"name": "p"}, "mark": {"type": "line", "strokeWidth": 1},
  "encoding": {"color": {"datum": "SyncRequest", "type": "nominal", "scale": {"domain": ["GetMsgRequest","SearchConvRequest","GetFolderRequest","SearchRequest","MsgActionRequest.delete","NoOpRequest","SyncRequest","GetEffectiveFolderPermsRequest"], "range": ["#ff5555","#5555ff","#55ff55","#ffff55","#ff55ff","#55ffff","#ffafaf","#808080"]}}}},
 {"data": {"name": "w"}, "transform": [{"fold": ["c"], "as": ["k", "v"]}, {"filter": "isValid(datum.v)"}], "mark": {"type": "line", "strokeWidth": 1},
  "encoding": {"color": {"datum": "NoOpRequest", "type": "nominal", "scale": {"domain": ["GetMsgRequest","SearchConvRequest","GetFolderRequest","SearchRequest","MsgActionRequest.delete","NoOpRequest","SyncRequest","GetEffectiveFolderPermsRequest"], "range": ["#ff5555","#5555ff","#55ff55","#ffff55","#ff55ff","#55ffff","#ffafaf","#808080"]}}}},
 {"data": {"name": "mg"}, "mark": {"type": "line", "strokeWidth": 1},
  "encoding": {"color": {"datum": "MsgActionRequest.delete", "type": "nominal", "scale": {"domain": ["GetMsgRequest","SearchConvRequest","GetFolderRequest","SearchRequest","MsgActionRequest.delete","NoOpRequest","SyncRequest","GetEffectiveFolderPermsRequest"], "range": ["#ff5555","#5555ff","#55ff55","#ffff55","#ff55ff","#55ffff","#ffafaf","#808080"]}}}},
 {"data": {"name": "w"}, "transform": [{"fold": ["y"], "as": ["k", "v"]}, {"filter": "isValid(datum.v)"}], "mark": {"type": "line", "strokeWidth": 1},
  "encoding": {"color": {"datum": "SearchRequest", "type": "nominal", "scale": {"domain": ["GetMsgRequest","SearchConvRequest","GetFolderRequest","SearchRequest","MsgActionRequest.delete","NoOpRequest","SyncRequest","GetEffectiveFolderPermsRequest"], "range": ["#ff5555","#5555ff","#55ff55","#ffff55","#ff55ff","#55ffff","#ffafaf","#808080"]}}}},
 {"data": {"name": "g"}, "mark": {"type": "line", "strokeWidth": 1},
  "encoding": {"color": {"datum": "GetFolderRequest", "type": "nominal", "scale": {"domain": ["GetMsgRequest","SearchConvRequest","GetFolderRequest","SearchRequest","MsgActionRequest.delete","NoOpRequest","SyncRequest","GetEffectiveFolderPermsRequest"], "range": ["#ff5555","#5555ff","#55ff55","#ffff55","#ff55ff","#55ffff","#ffafaf","#808080"]}}}},
 {"data": {"name": "w"}, "transform": [{"fold": ["b"], "as": ["k", "v"]}, {"filter": "isValid(datum.v)"}], "mark": {"type": "line", "strokeWidth": 1},
  "encoding": {"color": {"datum": "SearchConvRequest", "type": "nominal", "scale": {"domain": ["GetMsgRequest","SearchConvRequest","GetFolderRequest","SearchRequest","MsgActionRequest.delete","NoOpRequest","SyncRequest","GetEffectiveFolderPermsRequest"], "range": ["#ff5555","#5555ff","#55ff55","#ffff55","#ff55ff","#55ffff","#ffafaf","#808080"]}}}},
 {"data": {"name": "w"}, "transform": [{"fold": ["r"], "as": ["k", "v"]}, {"filter": "isValid(datum.v)"}], "mark": {"type": "line", "strokeWidth": 1},
  "encoding": {"color": {"datum": "GetMsgRequest", "type": "nominal", "scale": {"domain": ["GetMsgRequest","SearchConvRequest","GetFolderRequest","SearchRequest","MsgActionRequest.delete","NoOpRequest","SyncRequest","GetEffectiveFolderPermsRequest"], "range": ["#ff5555","#5555ff","#55ff55","#ffff55","#ff55ff","#55ffff","#ffafaf","#808080"]}}}}
]
}
